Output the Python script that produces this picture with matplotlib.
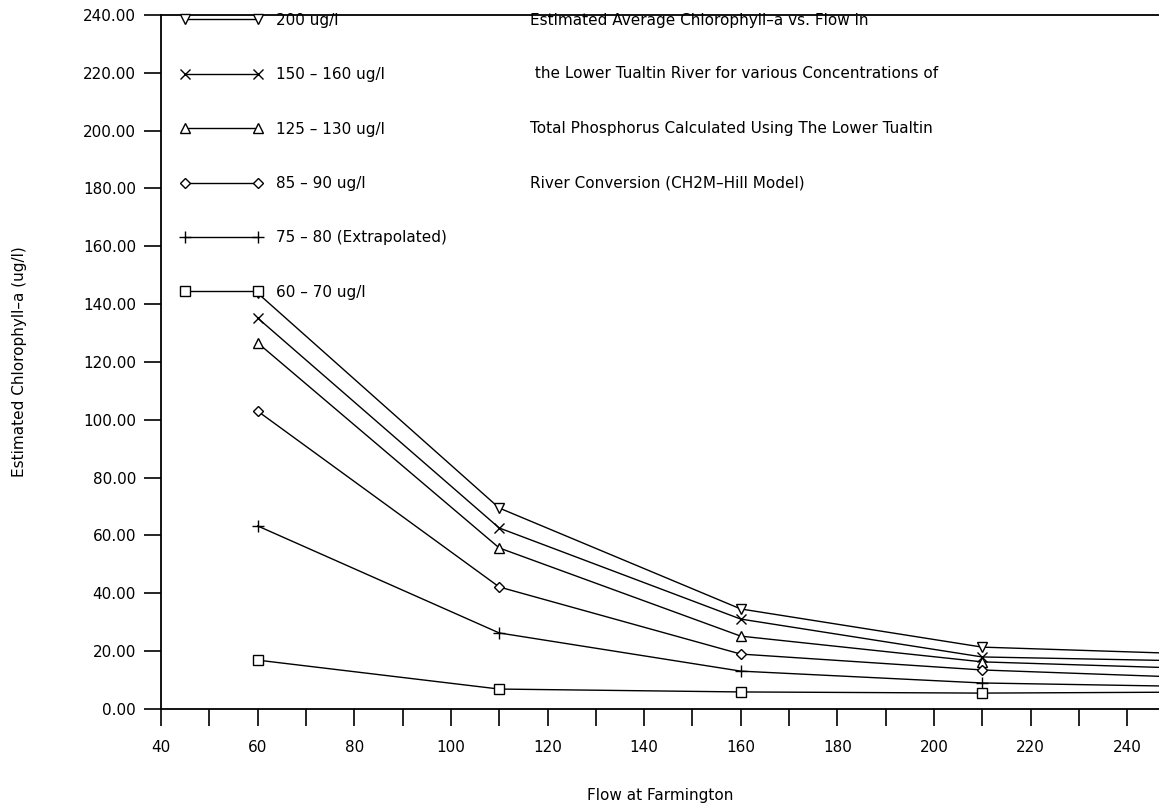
import matplotlib
matplotlib.use("Agg")
import matplotlib.pyplot as plt
from matplotlib.ticker import MultipleLocator, FormatStrFormatter

plt.rcParams['font.family'] = ['DejaVu Sans']

flow = [60, 110, 160, 210, 260]

conc_200 = [143.8, 69.5, 34.6, 21.4, 18.7]
conc_150 = [135.2, 62.6, 31.1, 18.0, 16.4]
conc_125 = [126.6, 55.7, 25.2, 16.3, 13.7]
conc_85 = [103.0, 42.2, 19.0, 13.5, 10.5]
conc_75 = [63.3, 26.3, 13.1, 9.0, 7.6]
conc_60 = [16.9, 6.9, 5.9, 5.5, 5.9]

labels = ["200 ug/l", "150 – 160 ug/l", "125 – 130 ug/l", "85 – 90 ug/l",
          "75 – 80 (Extrapolated)", "60 – 70 ug/l"]
markers = ["v", "x", "^", "D", "+", "s"]
msizes = [7, 7, 7, 5.5, 8, 7]
series = [conc_200, conc_150, conc_125, conc_85, conc_75, conc_60]

title_lines = ["Estimated Average Chlorophyll–a vs. Flow in",
               " the Lower Tualtin River for various Concentrations of",
               "Total Phosphorus Calculated Using The Lower Tualtin",
               "River Conversion (CH2M–Hill Model)"]

fig = plt.figure(figsize=(11.59, 8.09), dpi=100)
ax = fig.add_axes([0.139, 0.1236, 0.861, 0.8579])

for vals, m, ms, lab in zip(series, markers, msizes, labels):
    ax.plot(flow, vals, color="black", linewidth=1, marker=m, markersize=ms,
            markerfacecolor="white", markeredgecolor="black",
            markeredgewidth=1, label=lab)

ax.set_xlim(40, 246.6)
ax.set_ylim(0, 240)
ax.xaxis.set_major_locator(MultipleLocator(20))
ax.xaxis.set_minor_locator(MultipleLocator(10))
ax.yaxis.set_major_locator(MultipleLocator(20))
ax.yaxis.set_major_formatter(FormatStrFormatter('%.2f'))

ax.spines['right'].set_visible(False)
for s in ['left', 'bottom', 'top']:
    ax.spines[s].set_linewidth(1.3)

ax.tick_params(axis='x', which='both', direction='out', length=12, width=1.2,
               labelsize=11, pad=10)
ax.tick_params(axis='y', which='major', direction='out', length=12, width=1.2,
               labelsize=11, pad=6)

ax.set_xlabel("Flow at Farmington", fontsize=11, labelpad=24)
ax.set_ylabel("Estimated Chlorophyll–a (ug/l)", fontsize=11, labelpad=40)

leg = ax.legend(loc="upper left", bbox_to_anchor=(0.013, 1.012), frameon=False,
                numpoints=2, handlelength=5.4, handletextpad=0.9,
                labelspacing=2.58, fontsize=11, borderaxespad=0)

row_y = [20, 74, 129, 183]
for py, txt in zip(row_y, title_lines):
    fig.text(530 / 1159, 1 - py / 809, txt, fontsize=11, ha="left", va="center")

fig.savefig("out.png", dpi=100)
